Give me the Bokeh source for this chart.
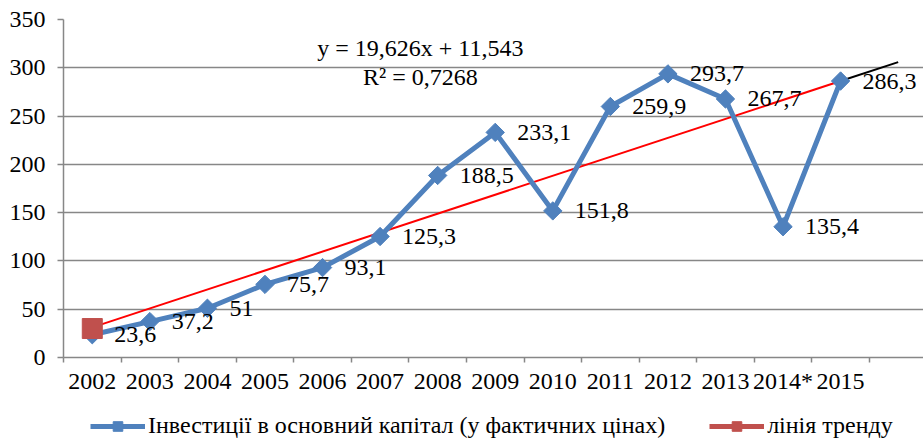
from bokeh.plotting import figure
from bokeh.layouts import column
from bokeh.models import (Range1d, FixedTicker, Legend, LegendItem, ColumnDataSource)
from bokeh.core.properties import value
from bokeh.embed import file_html
from bokeh.resources import INLINE
import math

years = ["2002", "2003", "2004", "2005", "2006", "2007", "2008", "2009",
         "2010", "2011", "2012", "2013", "2014*", "2015"]
invest = [23.6, 37.2, 51, 75.7, 93.1, 125.3, 188.5, 233.1, 151.8, 259.9,
          293.7, 267.7, 135.4, 286.3]
invest_labels = ["23,6", "37,2", "51", "75,7", "93,1", "125,3", "188,5", "233,1",
                 "151,8", "259,9", "293,7", "267,7", "135,4", "286,3"]
trend_x = [1, 14]
trend_y = [31.2, 286.3]
forecast_x = [14, 15]
forecast_y = [286.3, 305.9]
trend_point_x = [1]
trend_point_y = [30]
y_ticks = [0, 50, 100, 150, 200, 250, 300, 350]
eq_line1 = "y = 19,626x + 11,543"
eq_line2 = "R² = 0,7268"
series_name = "Інвестиції в основний капітал (у фактичних цінах)"
trend_name = "лінія тренду"

FONT = "Liberation Serif"
GRID = "#878787"
BLUE = "#4F81BD"
TREND_SERIES = "#C0504D"

xs = list(range(1, len(years) + 1))

p = figure(width=923, height=400, output_backend="svg", toolbar_location=None,
           x_range=Range1d(0.5, 15.44), y_range=Range1d(0, 350),
           min_border_left=63, min_border_top=19, min_border_right=0,
           min_border_bottom=43)
p.outline_line_color = None
p.background_fill_color = "white"

# axes
p.xaxis.ticker = FixedTicker(ticks=xs, minor_ticks=[i + 0.5 for i in range(0, 15)])
p.xaxis.major_label_overrides = {x: y for x, y in zip(xs, years)}
p.xaxis.major_tick_out = 0
p.xaxis.major_tick_in = 0
p.xaxis.minor_tick_out = 5
p.xaxis.minor_tick_in = 0
p.xaxis.minor_tick_line_color = GRID
p.xaxis.minor_tick_line_width = 1.5
p.xaxis.axis_line_color = GRID
p.xaxis.axis_line_width = 1.5
p.xaxis.major_label_text_font = FONT
p.xaxis.major_label_text_font_size = "24px"
p.xaxis.major_label_text_color = "black"
p.xaxis.major_label_standoff = 5

p.yaxis.ticker = FixedTicker(ticks=y_ticks, minor_ticks=[])
p.yaxis.major_tick_out = 6
p.yaxis.major_tick_in = 0
p.yaxis.major_tick_line_color = GRID
p.yaxis.major_tick_line_width = 1.5
p.yaxis.axis_line_color = GRID
p.yaxis.axis_line_width = 1.5
p.yaxis.major_label_text_font = FONT
p.yaxis.major_label_text_font_size = "24px"
p.yaxis.major_label_text_color = "black"
p.yaxis.major_label_standoff = 12

p.xgrid.grid_line_color = None
p.ygrid.ticker = FixedTicker(ticks=y_ticks)
p.ygrid.grid_line_color = GRID
p.ygrid.grid_line_width = 1.5

p.line(trend_x, trend_y, line_color="#FF0000", line_width=2)
p.line(forecast_x, forecast_y, line_color="black", line_width=2)

src = ColumnDataSource(dict(x=xs, y=invest, lab=invest_labels))
p.line("x", "y", source=src, line_color=BLUE, line_width=5)
p.scatter("x", "y", source=src, marker="square", angle=math.pi / 4,
          size=13, fill_color=BLUE, line_color=BLUE)
p.text("x", "y", text="lab", source=src, x_offset=22, text_baseline="middle",
       text_align="left", text_font=value(FONT), text_font_size="24px",
       text_color="black")

p.scatter(trend_point_x, trend_point_y, marker="square", size=20,
          fill_color=TREND_SERIES, line_color=TREND_SERIES)

p.text(x=[6.7], y=[320], text=[eq_line1], text_align="center", text_baseline="middle",
       text_font=value(FONT), text_font_size="24px", text_color="black")
p.text(x=[6.7], y=[290], text=[eq_line2], text_align="center", text_baseline="middle",
       text_font=value(FONT), text_font_size="24px", text_color="black")

# legend strip (separate small figure so the legend is not clipped)
leg = figure(width=923, height=42, output_backend="svg", toolbar_location=None,
             x_range=Range1d(0, 1), y_range=Range1d(0, 1),
             x_axis_type=None, y_axis_type=None, min_border=0)
leg.outline_line_color = None
leg.xgrid.grid_line_color = None
leg.ygrid.grid_line_color = None
hidden = dict(x=[-5], y=[-5])
l1 = leg.line(x="x", y="y", source=ColumnDataSource(hidden), line_color=BLUE, line_width=5)
m1 = leg.scatter(x="x", y="y", source=ColumnDataSource(hidden), marker="square",
                 angle=math.pi / 4, size=11, fill_color=BLUE, line_color=BLUE)
l2 = leg.line(x="x", y="y", source=ColumnDataSource(hidden), line_color=TREND_SERIES, line_width=5)
m2 = leg.scatter(x="x", y="y", source=ColumnDataSource(hidden), marker="square",
                 size=14, fill_color=TREND_SERIES, line_color=TREND_SERIES)

legend = Legend(items=[
    LegendItem(label=series_name, renderers=[l1, m1]),
    LegendItem(label=trend_name, renderers=[l2, m2]),
], orientation="horizontal", location=(27, 3))
legend.label_text_font = FONT
legend.label_text_font_size = "24px"
legend.label_text_color = "black"
legend.glyph_width = 55
legend.glyph_height = 24
legend.label_height = 24
legend.label_standoff = 3
legend.spacing = 44
legend.padding = 0
legend.margin = 0
legend.border_line_color = None
legend.background_fill_alpha = 0
leg.add_layout(legend, "center")

open("out.html", "w").write(file_html(column(p, leg), INLINE))
